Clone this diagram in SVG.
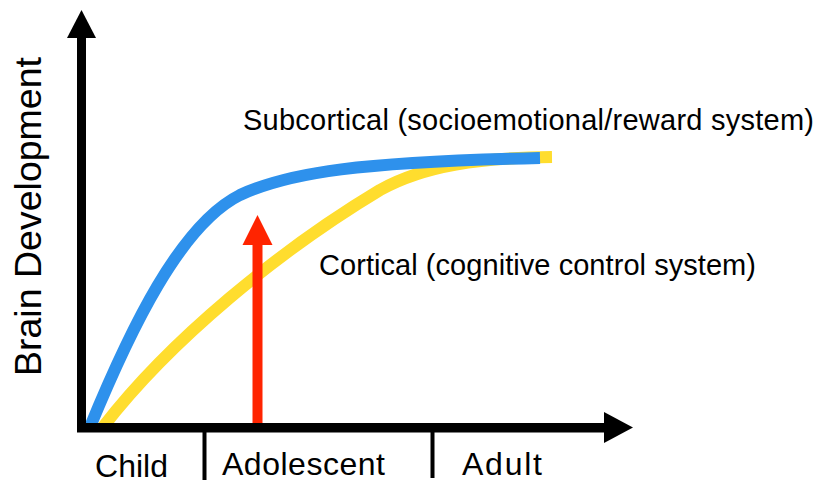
<svg xmlns="http://www.w3.org/2000/svg" width="819" height="484" viewBox="0 0 819 484">
<style>
.lbl{font-family:"Liberation Sans",Arial,sans-serif;fill:#000;}
.curve{fill:none;stroke-width:12;stroke-linecap:butt;}
</style>
<rect width="819" height="484" fill="#fff"/>
<g id="curves">
<path id="cortical" class="curve" stroke="#FFDD2E" d="M103 427 C170 340 280 250 380 190 C425 165 480 158 552 157"/>
<path id="subcortical" class="curve" stroke="#2E91EC" d="M90 427 C130 330 180 225 240 195 C290 172 360 162 540 158"/>
</g>
<g id="red-arrow">
<rect x="252.5" y="243" width="10" height="184" fill="#FF2400"/>
<polygon points="242.5,245 257.5,215 272.5,245" fill="#FF2400"/>
</g>
<g id="axes">
<rect x="77" y="36" width="9" height="396" fill="#000"/>
<polygon points="67,38 81.5,10 96,38" fill="#000"/>
<rect x="77" y="423" width="529" height="9.5" fill="#000"/>
<polygon points="604,412 633,427.5 604,443" fill="#000"/>
<rect x="202.5" y="430" width="4" height="50" fill="#000"/>
<rect x="430.5" y="430" width="4" height="48" fill="#000"/>
</g>
<g id="labels">
<text class="lbl" x="243" y="130" font-size="29" textLength="571">Subcortical (socioemotional/reward system)</text>
<text class="lbl" x="319" y="275" font-size="29" textLength="437">Cortical (cognitive control system)</text>
<text class="lbl" x="95" y="477" font-size="32" textLength="73">Child</text>
<text class="lbl" x="222" y="475" font-size="32" textLength="163">Adolescent</text>
<text class="lbl" x="462" y="475" font-size="32" textLength="80">Adult</text>
<text class="lbl" transform="translate(41,376) rotate(-90)" x="0" y="0" font-size="37.5" textLength="319">Brain Development</text>
</g>
</svg>
